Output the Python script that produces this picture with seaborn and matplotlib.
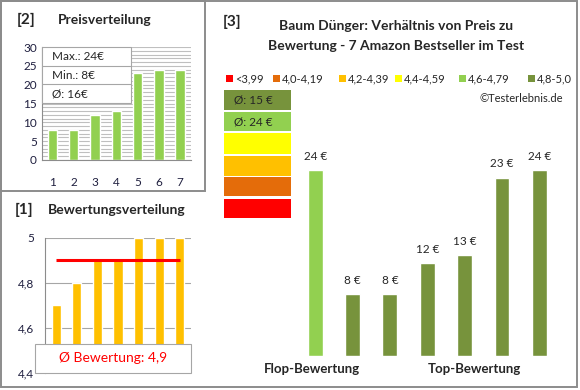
import seaborn as sns
import matplotlib.pyplot as plt
from matplotlib.patches import Rectangle
from matplotlib.ticker import MultipleLocator

# data
positions = ['1', '2', '3', '4', '5', '6', '7']
prices = [8, 8, 12, 13, 23, 24, 24]
ratings = [4.7, 4.8, 4.9, 4.9, 5.0, 5.0, 5.0]
avg_rating = 4.9

# right chart: products ordered flop -> top
ranked_prices = [24, 8, 8, 12, 13, 23, 24]
ranked_colors = ['#92D050', '#77933C', '#77933C', '#77933C', '#77933C', '#77933C', '#77933C']
price_labels = ['24 €', '8 €', '8 €', '12 €', '13 €', '23 €', '24 €']

legend_labels = ['<3,99', '4,0-4,19', '4,2-4,39', '4,4-4,59', '4,6-4,79', '4,8-5,0']
legend_colors = ['#FF0000', '#E46C0A', '#FFC000', '#FFFF00', '#92D050', '#77933C']
avg_boxes = ['Ø: 15 €', 'Ø: 24 €', '', '', '', '']

W, H = 580, 390
sns.set_style('white')
plt.rcParams['font.family'] = ['Lato', 'DejaVu Sans']

fig = plt.figure(figsize=(5.8, 3.9), dpi=100)


def px_axes(x0, y0, x1, y1):
    return fig.add_axes([x0 / W, 1 - y1 / H, (x1 - x0) / W, (y1 - y0) / H])


def px_rect(x0, y0, x1, y1, **kw):
    fig.add_artist(Rectangle((x0 / W, 1 - y1 / H), (x1 - x0) / W, (y1 - y0) / H,
                             transform=fig.transFigure, **kw))


def px_text(x, y, s, **kw):
    fig.text(x / W, 1 - y / H, s, **kw)


grey = '#8C8C8C'
# panel borders
px_rect(1, 1, 577, 387, fill=False, edgecolor=grey, lw=1.4)
px_rect(1, 1, 205, 191, fill=False, edgecolor=grey, lw=1.4)

# [2] Preisverteilung
ax1 = px_axes(41.7, 47, 190.8, 160)
sns.barplot(x=positions, y=prices, color='#92D050', width=0.44, saturation=1, ax=ax1)
ax1.set_ylim(0, 30)
ax1.yaxis.set_major_locator(MultipleLocator(5))
ax1.yaxis.set_minor_locator(MultipleLocator(1))
ax1.grid(axis='y', which='both', color='#BFBFBF', lw=0.8)
ax1.set_axisbelow(True)
for s in ['top', 'right']:
    ax1.spines[s].set_visible(False)
for s in ['left', 'bottom']:
    ax1.spines[s].set_color(grey)
ax1.tick_params(length=0, labelsize=8.5, colors='#1F1F3F')
ax1.tick_params(axis='x', pad=12)
ax1.set_xlabel('')
ax1.set_ylabel('')
px_text(17, 20, '[2]', fontsize=11, fontweight='bold', va='center')
px_text(58, 20, 'Preisverteilung', fontsize=10, fontweight='bold', va='center')
px_rect(41.7, 47, 131, 103, facecolor='white', edgecolor='#A6A6A6', lw=0.8)
for i, s in enumerate(['Max.: %d€' % max(prices), 'Min.: %d€' % min(prices),
                       'Ø: %d€' % round(sum(prices) / len(prices))]):
    if i > 0:
        px_rect(41.7, 47 + i * 18.7, 131, 47 + i * 18.7, fill=False, edgecolor='#A6A6A6', lw=0.8)
    px_text(52, 57 + i * 18.5, s, fontsize=8.5, va='center')

# [1] Bewertungsverteilung
ax2 = px_axes(45, 237.7, 191, 373)
sns.barplot(x=positions, y=ratings, color='#FFC000', width=0.44, saturation=1, ax=ax2)
ax2.set_ylim(4.4, 5.0)
ax2.set_yticks([4.4, 4.6, 4.8, 5.0])
ax2.set_yticklabels(['4,4', '4,6', '4,8', '5'])
ax2.grid(axis='y', color='#A6A6A6', lw=0.8)
ax2.set_axisbelow(True)
for s in ['top', 'right', 'bottom']:
    ax2.spines[s].set_visible(False)
ax2.spines['left'].set_color(grey)
ax2.tick_params(length=0, labelsize=8.5, colors='#1F1F3F', pad=8)
ax2.set_xticks([])
ax2.set_xlabel('')
ax2.set_ylabel('')
ax2.hlines(avg_rating, 0, 6, color='#FF0000', lw=2.2, zorder=5)
px_text(15, 210, '[1]', fontsize=11, fontweight='bold', va='center')
px_text(48, 210, 'Bewertungsverteilung', fontsize=10, fontweight='bold', va='center')
px_rect(35, 344, 190.7, 372.7, facecolor='white', edgecolor='#A6A6A6', lw=0.8, zorder=10)
px_text(113, 358, 'Ø Bewertung: 4,9', fontsize=10, color='#FF0000', ha='center', va='center', zorder=11)

# [3] Preis zu Bewertung
ax3 = px_axes(296.6, 170, 558, 356)
sns.barplot(x=list(range(len(ranked_prices))), y=ranked_prices, hue=list(range(len(ranked_prices))),
            palette=ranked_colors, width=0.4, saturation=1, legend=False, ax=ax3)
ax3.set_ylim(0, 24)
ax3.axis('off')
for cont, lab in zip(ax3.containers, price_labels):
    ax3.bar_label(cont, labels=[lab], padding=6, fontsize=8.5)

px_text(223, 22, '[3]', fontsize=11, fontweight='bold', va='center')
px_text(396, 26, 'Baum Dünger: Verhältnis von Preis zu', fontsize=10, fontweight='bold', ha='center', va='center')
px_text(396, 46, 'Bewertung - 7 Amazon Bestseller im Test', fontsize=10, fontweight='bold', ha='center', va='center')

sq_x = [225.7, 272.7, 339.3, 395, 458.7, 528.3]
for x, lab, c in zip(sq_x, legend_labels, legend_colors):
    px_rect(x, 75, x + 7, 82, facecolor=c, edgecolor='none')
    px_text(x + 9, 78.5, lab, fontsize=8, va='center')
px_text(563, 99, '©Testerlebnis.de', fontsize=8, ha='right', va='center')

box_y = [(90, 110), (112, 131), (133, 154), (156, 176), (177, 196), (199, 218)]
for (y0, y1), c, lab in zip(box_y, legend_colors[::-1], avg_boxes):
    px_rect(224, y0, 291, y1, facecolor=c, edgecolor='none')
    if lab:
        px_text(234, (y0 + y1) / 2, lab, fontsize=8.5, va='center')

px_text(312, 369, 'Flop-Bewertung', fontsize=9.5, fontweight='bold', ha='center', va='center')
px_text(474, 369, 'Top-Bewertung', fontsize=9.5, fontweight='bold', ha='center', va='center')

fig.savefig('out.png', dpi=100)
plt.close(fig)
